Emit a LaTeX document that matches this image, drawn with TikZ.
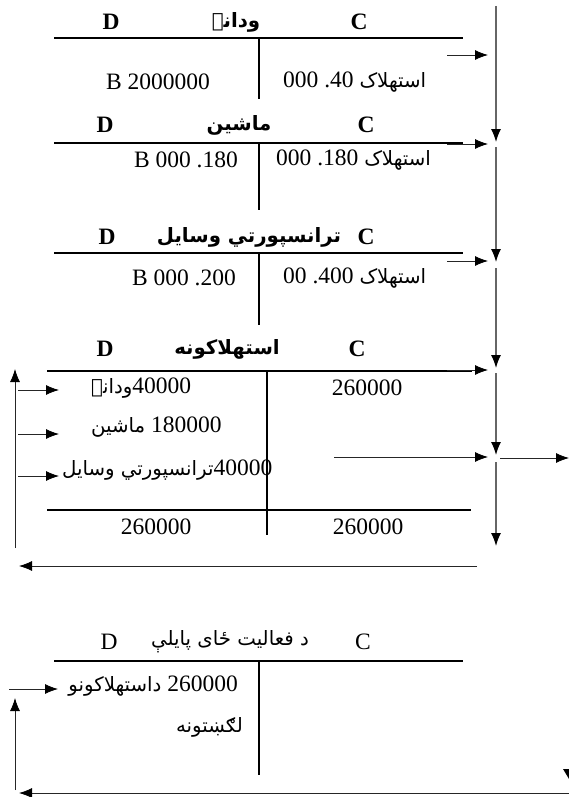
\documentclass[tikz,border=0pt]{standalone}
\usepackage{fontspec}
\setmainfont{Liberation Serif}
\newfontfamily\arabicfont[Script=Arabic,Scale=0.84]{DejaVu Sans}
\TeXXeTstate=1
\usetikzlibrary{arrows.meta}
\newcommand{\pashto}[1]{{\arabicfont\beginR #1\endR}}

\begin{document}
\begin{tikzpicture}[x=1pt,y=-1pt,
  acc/.style={line width=1.2pt},
  tot/.style={line width=2.2pt},
  flow/.style={line width=0.8pt,draw=black!85,-{Latex[length=13pt,width=10pt,color=black]}},
  spine/.style={flow,draw=black!60,line width=1.3pt},
  lbl/.style={font=\fontsize{23.5}{28}\selectfont,inner sep=0pt},
  hd/.style={font=\fontsize{23.5}{28}\selectfont\bfseries,inner sep=0pt}]
\useasboundingbox (0,0) rectangle (569,797);
% spine on the right
\coordinate (s0) at (496,6);
\coordinate (s1) at (496,142);  \coordinate (s1b) at (496,147);
\coordinate (s2) at (496,262);  \coordinate (s2b) at (496,268);
\coordinate (s3) at (496,368);  \coordinate (s3b) at (496,373);
\coordinate (s4) at (496,455);  \coordinate (s4b) at (496,462);
\coordinate (s5) at (496,546);
\draw[spine] (s0) -- (s1);
\draw[spine] (s1b) -- (s2);
\draw[spine] (s2b) -- (s3);
\draw[spine] (s3b) -- (s4);
\draw[spine] (s4b) -- (s5);

% ودانۍ
\node[hd] (wdD) at (111,22) {D};
\node[hd] (wdT) at (236,22) {\pashto{ودانۍ}};
\node[hd] (wdC) at (359,22) {C};
\draw[acc] (54,38) -- (463,38);
\draw[acc] (259,38) -- (259,99);
\node[lbl,anchor=east] (wdL) at (210,82) {B 2000000};
\node[lbl,anchor=west] (wdR) at (283,82) {000 .40 \pashto{استهلاک}};
\coordinate (wdA) at (447,55); \coordinate (wdB) at (488,55);
\draw[flow] (wdA) -- (wdB);

% ماشين
\node[hd] (mshD) at (105,125) {D};
\node[hd] (mshT) at (239,125) {\pashto{ماشين}};
\node[hd] (mshC) at (366,125) {C};
\draw[acc] (54,143) -- (463,143);
\draw[acc] (259,143) -- (259,210);
\node[lbl,anchor=east] (mshL) at (238,160) {B 000 .180};
\node[lbl,anchor=west] (mshR) at (276,160) {000 .180 \pashto{استهلاک}};
\coordinate (mshA) at (447,144); \coordinate (mshB) at (488,144);
\draw[flow] (mshA) -- (mshB);

% ترانسپورتي وسایل
\node[hd] (trnD) at (107,237) {D};
\node[hd] (trnT) at (249,237) {\pashto{ترانسپورتي وسایل}};
\node[hd] (trnC) at (366,237) {C};
\draw[acc] (54,253) -- (463,253);
\draw[acc] (259,253) -- (259,325);
\node[lbl,anchor=east] (trnL) at (236,278) {B 000 .200};
\node[lbl,anchor=west] (trnR) at (283,278) {00 .400 \pashto{استهلاک}};
\coordinate (trnA) at (447,261); \coordinate (trnB) at (488,261);
\draw[flow] (trnA) -- (trnB);

% استهلاکونه
\node[hd] (istD) at (105,349) {D};
\node[hd] (istT) at (227,349) {\pashto{استهلاکونه}};
\node[hd] (istC) at (357,349) {C};
\draw[acc] (47,371) -- (472,371);
\draw[acc] (267,371) -- (267,535);
\draw[tot] (47,510) -- (471,510);
\node[lbl,anchor=west] (ist1) at (91,388) {\pashto{ودانۍ}40000};
\node[lbl,anchor=west] (ist2) at (91,427) {\pashto{ماشين} 180000};
\node[lbl,anchor=west] (ist3) at (62,470) {\pashto{ترانسپورتي وسایل}40000};
\node[lbl] (istR) at (367,388) {260000};
\node[lbl] (istDt) at (156,527) {260000};
\node[lbl] (istCt) at (368,527) {260000};
\coordinate (istA) at (447,370); \coordinate (istB) at (488,370);
\draw[flow] (istA) -- (istB);
\coordinate (inA) at (334,457); \coordinate (inB) at (488,457);
\draw[flow] (inA) -- (inB);
\coordinate (outA) at (500,458); \coordinate (outB) at (569,458);
\draw[flow] (outA) -- (outB);
% back to the debit side
\coordinate (bkA) at (477,566); \coordinate (bkB) at (19,566);
\draw[flow] (bkA) -- (bkB);
\coordinate (upA) at (15,548); \coordinate (upB) at (15,369);
\draw[flow] (upA) -- (upB);
\foreach \y in {390,434,476}
  \draw[flow] (18,\y) -- (59,\y);

% د فعالیت ځای پایلې
\node[lbl] (payD) at (109,642) {D};
\node[lbl] (payT) at (230,642) {\pashto{د فعالیت ځای پایلې}};
\node[lbl] (payC) at (363,642) {C};
\draw[acc] (54,661) -- (463,661);
\draw[acc] (259,661) -- (259,775);
\node[lbl,anchor=east] (pay1) at (238,686) {\pashto{داستهلاکونو} 260000};
\node[lbl,anchor=east] (pay2) at (243,727) {\pashto{لګښتونه}};
\coordinate (btA) at (569,793); \coordinate (btB) at (19,793);
\draw[flow] (btA) -- (btB);
\coordinate (lfA) at (15,790); \coordinate (lfB) at (15,698);
\draw[flow] (lfA) -- (lfB);
\coordinate (rwA) at (9,689); \coordinate (rwB) at (58,689);
\draw[flow] (rwA) -- (rwB);
\fill (563,769) -- (569,769) -- (569,779) -- cycle;
\end{tikzpicture}
\end{document}
